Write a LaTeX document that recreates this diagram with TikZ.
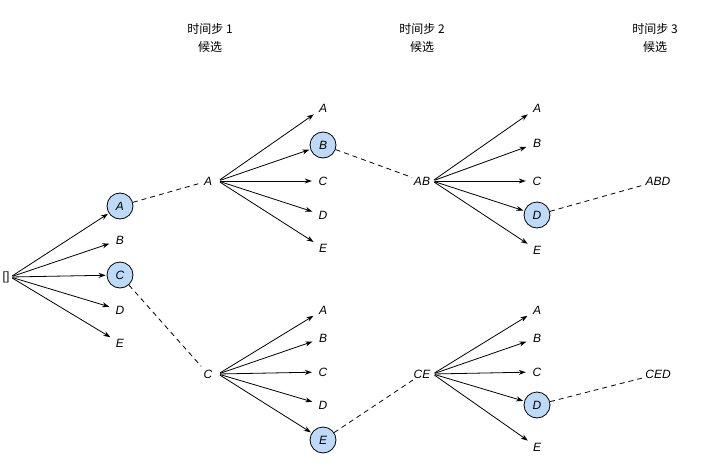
\documentclass[tikz,border=0pt]{standalone}
\usepackage{fontspec}
\setmainfont{Liberation Sans}
\newfontfamily\cjk{Noto Sans CJK SC}
\usetikzlibrary{arrows.meta}
\begin{document}
\begin{tikzpicture}[x=1pt,y=-1pt,
  lab/.style={font=\itshape\fontsize{12}{14}\selectfont, inner sep=1pt, minimum size=20pt, circle},
  sel/.style={lab, draw=black, fill={rgb,255:red,190;green,218;blue,248}, line width=0.8pt, minimum size=26pt},
  arr/.style={-{Stealth[length=7pt,width=5pt]}, line width=0.8pt, shorten <=2pt, shorten >=1pt},
  dsh/.style={dashed, line width=0.8pt, dash pattern=on 5pt off 4pt},
  hd/.style={font=\cjk\fontsize{12}{14}\selectfont, align=center}]
\useasboundingbox (0,0) rectangle (705,471);
\node[hd] (h1) at (210,38) {时间步 1\\[4pt]候选};
\node[hd] (h2) at (422,38) {时间步 2\\[4pt]候选};
\node[hd] (h3) at (655,38) {时间步 3\\[4pt]候选};
\node[font=\fontsize{12}{14}\selectfont, inner sep=1pt] (r) at (6,277) {[]};
% level 1
\node[sel] (a1) at (120,206) {A};
\node[lab] (b1) at (120,240) {B};
\node[sel] (c1) at (120,275) {C};
\node[lab] (d1) at (120,310) {D};
\node[lab] (e1) at (120,343) {E};
\foreach \t in {a1,b1,c1,d1,e1} \draw[arr] (r.east) -- (\t);
% level 2 top
\node[lab] (pA) at (208,181) {A};
\node[lab] (ta) at (323,108) {A};
\node[sel] (tb) at (323,145) {B};
\node[lab] (tc) at (323,181) {C};
\node[lab] (td) at (323,215) {D};
\node[lab] (te) at (323,248) {E};
\foreach \t in {ta,tb,tc,td,te} \draw[arr] (pA.east) -- (\t);
% level 2 bottom
\node[lab] (pC) at (208,374) {C};
\node[lab] (ua) at (323,310) {A};
\node[lab] (ub) at (323,338) {B};
\node[lab] (uc) at (323,372) {C};
\node[lab] (ud) at (323,405) {D};
\node[sel] (ue) at (323,440) {E};
\foreach \t in {ua,ub,uc,ud,ue} \draw[arr] (pC.east) -- (\t);
\draw[dsh] (a1) -- (pA);
\draw[dsh] (c1) -- (pC);
% level 3 top
\node[lab] (pAB) at (422,181) {AB};
\node[lab] (va) at (537,108) {A};
\node[lab] (vb) at (537,143) {B};
\node[lab] (vc) at (537,181) {C};
\node[sel] (vd) at (537,215) {D};
\node[lab] (ve) at (537,250) {E};
\foreach \t in {va,vb,vc,vd,ve} \draw[arr] (pAB.east) -- (\t);
% level 3 bottom
\node[lab] (pCE) at (422,374) {CE};
\node[lab] (wa) at (537,310) {A};
\node[lab] (wb) at (537,338) {B};
\node[lab] (wc) at (537,372) {C};
\node[sel] (wd) at (537,405) {D};
\node[lab] (we) at (537,447) {E};
\foreach \t in {wa,wb,wc,wd,we} \draw[arr] (pCE.east) -- (\t);
\draw[dsh] (tb) -- (pAB);
\draw[dsh] (ue) -- (pCE);
\node[lab] (fABD) at (658,181) {ABD};
\node[lab] (fCED) at (658,374) {CED};
\draw[dsh] (vd) -- (fABD);
\draw[dsh] (wd) -- (fCED);
\end{tikzpicture}
\end{document}
